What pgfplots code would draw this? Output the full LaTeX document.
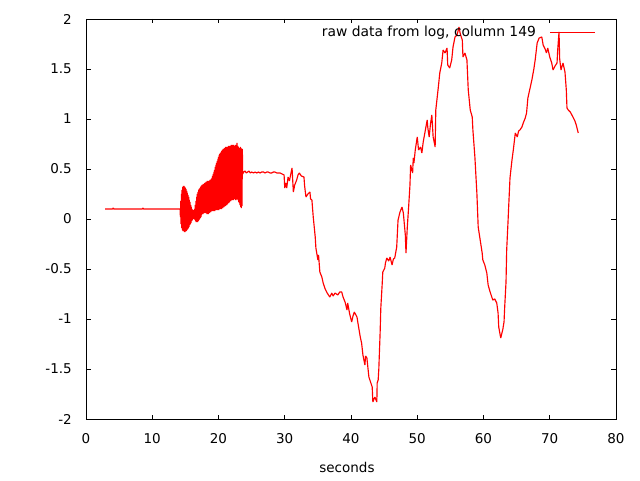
\documentclass[border=0pt]{standalone}
\usepackage{fontspec}
\setmainfont{DejaVu Sans}
\usepackage{pgfplots}
\pgfplotsset{compat=1.18}
\begin{document}
\fontsize{13.5pt}{16pt}\selectfont
\begin{tikzpicture}
\path[use as bounding box] (0,0) rectangle (640pt,480pt);
\begin{axis}[
  at={(86pt,61pt)}, anchor=south west,
  scale only axis, width=530pt, height=400pt,
  xmin=0, xmax=80, ymin=-2, ymax=2,
  xtick={0,10,20,30,40,50,60,70,80},
  ytick={-2,-1.5,-1,-0.5,0,0.5,1,1.5,2},
  tick pos=both, tick align=inside, major tick length=4.5pt,
  axis line style={line width=0.8pt},
  every tick/.style={black, line width=0.8pt},
  /pgf/number format/assume math mode=true,
  ticklabel style={font=\fontsize{13.5pt}{16pt}\selectfont},
  xticklabel style={anchor=north, inner sep=0pt, yshift=-14pt},
  yticklabel style={anchor=east, inner sep=0pt, xshift=-14pt},
  xlabel={seconds},
  xlabel style={at={(axis description cs:0.5,0)}, anchor=base, inner sep=0pt, yshift=-53pt, xshift=-4pt},
  legend plot pos=right,
  legend image code/.code={\draw[#1] (0pt,0pt) -- (45pt,0pt);},
  legend style={at={(rel axis cs:0.9623,0.9668)}, anchor=east, draw=none, fill=none,
    inner sep=0pt, outer sep=0pt, column sep=14pt,
    nodes={inner sep=0pt, font=\fontsize{13.85pt}{16pt}\selectfont}},
]
\addplot[red, line width=1.15pt, line join=bevel] coordinates {
(2.9,0.10) (4.0,0.10) (4.1,0.11) (4.2,0.10) (8.5,0.10) (8.6,0.11) (8.7,0.10) (14.1,0.10)
(14.20,0.10) (14.25,0.02) (14.30,0.18) (14.35,-0.05) (14.40,0.25) (14.45,-0.09) (14.50,0.29) (14.55,-0.11)
(14.60,0.32) (14.65,-0.12) (14.70,0.33) (14.75,-0.12) (14.80,0.33) (14.85,-0.13) (14.90,0.32) (14.95,-0.13)
(15.00,0.31) (15.05,-0.12) (15.10,0.30) (15.15,-0.12) (15.20,0.28) (15.25,-0.11) (15.30,0.26) (15.35,-0.10)
(15.40,0.24) (15.45,-0.09) (15.50,0.22) (15.55,-0.08) (15.60,0.19) (15.65,-0.06) (15.70,0.17) (15.75,-0.05)
(15.80,0.14) (15.85,-0.04) (15.90,0.12) (15.95,-0.02) (16.00,0.10) (16.05,-0.01) (16.10,0.09) (16.15,0.00)
(16.20,0.08) (16.25,0.00) (16.30,0.09) (16.35,0.00) (16.40,0.10) (16.45,-0.01) (16.50,0.14) (16.55,-0.02)
(16.60,0.18) (16.65,-0.03) (16.70,0.22) (16.75,-0.03) (16.80,0.25) (16.85,-0.03) (16.90,0.27) (16.95,-0.02)
(17.00,0.29) (17.05,-0.01) (17.10,0.30) (17.15,0.00) (17.20,0.31) (17.25,0.01) (17.30,0.32) (17.35,0.02)
(17.40,0.33) (17.45,0.04) (17.50,0.34) (17.55,0.05) (17.60,0.34) (17.65,0.05) (17.70,0.35) (17.75,0.06)
(17.80,0.35) (17.85,0.06) (17.90,0.36) (17.95,0.06) (18.00,0.36) (18.05,0.06) (18.10,0.37) (18.15,0.06)
(18.20,0.37) (18.25,0.05) (18.30,0.38) (18.35,0.05) (18.40,0.38) (18.45,0.05) (18.50,0.37) (18.55,0.06)
(18.60,0.38) (18.65,0.06) (18.70,0.39) (18.75,0.07) (18.80,0.39) (18.85,0.07) (18.90,0.40) (18.95,0.08)
(19.00,0.41) (19.05,0.08) (19.10,0.43) (19.15,0.08) (19.20,0.45) (19.25,0.08) (19.30,0.47) (19.35,0.08)
(19.40,0.49) (19.45,0.08) (19.50,0.52) (19.55,0.09) (19.60,0.54) (19.65,0.09) (19.70,0.56) (19.75,0.09)
(19.80,0.58) (19.85,0.09) (19.90,0.60) (19.95,0.09) (20.00,0.62) (20.05,0.09) (20.10,0.64) (20.15,0.10)
(20.20,0.65) (20.25,0.10) (20.30,0.66) (20.35,0.10) (20.40,0.67) (20.45,0.10) (20.50,0.68) (20.55,0.11)
(20.60,0.69) (20.65,0.11) (20.70,0.70) (20.75,0.12) (20.80,0.70) (20.85,0.12) (20.90,0.71) (20.95,0.13)
(21.00,0.71) (21.05,0.13) (21.10,0.72) (21.15,0.14) (21.20,0.72) (21.25,0.14) (21.30,0.71) (21.35,0.15)
(21.40,0.72) (21.45,0.16) (21.50,0.73) (21.55,0.16) (21.60,0.73) (21.65,0.17) (21.70,0.72) (21.75,0.18)
(21.80,0.73) (21.85,0.18) (21.90,0.74) (21.95,0.19) (22.00,0.74) (22.05,0.19) (22.10,0.73) (22.15,0.19)
(22.20,0.74) (22.25,0.19) (22.30,0.74) (22.35,0.20) (22.40,0.73) (22.45,0.20) (22.50,0.73) (22.55,0.19)
(22.60,0.74) (22.65,0.19) (22.70,0.73) (22.75,0.20) (22.80,0.76) (22.85,0.20) (22.90,0.73) (22.95,0.19)
(23.00,0.72) (23.05,0.17) (23.10,0.71) (23.15,0.16) (23.20,0.71) (23.25,0.14) (23.30,0.72) (23.35,0.12)
(23.40,0.71) (23.45,0.11) (23.50,0.70) (23.55,0.13) (23.60,0.70) (23.65,0.45)
(23.8,0.47) (24.0,0.48) (24.2,0.46) (24.4,0.47) (24.6,0.48) (24.8,0.46) (25.0,0.47) (25.3,0.46)
(25.5,0.47) (25.8,0.46) (26.0,0.47) (26.3,0.46) (26.5,0.47) (26.8,0.47) (27.0,0.46) (27.3,0.47)
(27.5,0.47) (27.8,0.46) (28.0,0.46) (28.3,0.47) (28.5,0.47) (28.8,0.46) (29.0,0.46) (29.3,0.46)
(29.6,0.45) (29.9,0.44) (30.0,0.31) (30.2,0.36) (30.3,0.31) (30.5,0.42) (30.7,0.38) (31.1,0.51)
(31.3,0.27) (31.5,0.34) (31.8,0.39) (32.0,0.44) (32.2,0.46) (32.5,0.43) (32.9,0.42) (33.0,0.33)
(33.2,0.22) (33.5,0.25) (33.8,0.27) (33.9,0.20) (34.1,0.19) (34.3,0.02) (34.6,-0.18) (34.7,-0.29)
(35.0,-0.41) (35.1,-0.36) (35.3,-0.53) (35.6,-0.58) (35.8,-0.64) (36.1,-0.70) (36.4,-0.74) (36.8,-0.78)
(37.1,-0.74) (37.3,-0.77) (37.6,-0.74) (38.0,-0.76) (38.3,-0.73) (38.6,-0.73) (38.8,-0.78) (39.1,-0.83)
(39.4,-0.91) (39.5,-0.84) (39.8,-0.95) (40.1,-1.03) (40.3,-0.97) (40.5,-0.93) (40.9,-0.98) (41.1,-1.06)
(41.4,-1.18) (41.6,-1.24) (41.8,-1.36) (42.1,-1.46) (42.2,-1.37) (42.4,-1.39) (42.7,-1.58) (43.0,-1.64)
(43.2,-1.68) (43.3,-1.83) (43.6,-1.78) (43.9,-1.83) (43.95,-1.64) (44.1,-1.61) (44.2,-1.50)
(44.4,-1.13) (44.5,-0.89) (44.7,-0.66) (44.8,-0.53) (45.1,-0.49) (45.2,-0.44) (45.4,-0.39) (45.7,-0.42)
(45.9,-0.38) (46.2,-0.46) (46.4,-0.40) (46.6,-0.39) (46.9,-0.28) (47.1,-0.01) (47.4,0.07) (47.7,0.12)
(47.9,0.06) (48.2,-0.16) (48.3,-0.34) (48.5,-0.08) (48.7,0.12) (48.9,0.34) (49.0,0.54) (49.3,0.46)
(49.4,0.61) (49.5,0.56) (49.7,0.69) (50.0,0.82) (50.2,0.69) (50.5,0.72) (50.7,0.66) (50.9,0.77)
(51.2,0.88) (51.5,0.99) (51.6,0.91) (51.8,0.82) (52.0,0.95) (52.2,1.04) (52.4,0.82) (52.7,0.72)
(52.8,1.09) (53.0,1.21) (53.2,1.33) (53.4,1.46) (53.7,1.56) (53.9,1.69) (54.2,1.66) (54.5,1.71)
(54.6,1.54) (54.9,1.51) (55.2,1.59) (55.4,1.72) (55.7,1.82) (56.0,1.84) (56.2,1.89) (56.3,1.92)
(56.5,1.85) (56.8,1.79) (56.9,1.62) (57.2,1.66) (57.5,1.59) (57.7,1.29) (58.0,1.09) (58.3,1.02)
(58.4,0.89) (58.7,0.62) (59.0,0.26) (59.2,-0.08) (59.5,-0.21) (59.8,-0.34) (59.9,-0.41) (60.2,-0.46)
(60.5,-0.54) (60.7,-0.66) (61.0,-0.73) (61.4,-0.81) (61.7,-0.80) (62.0,-0.84) (62.2,-0.94) (62.3,-1.08)
(62.6,-1.19) (62.9,-1.11) (63.1,-1.03) (63.2,-0.88) (63.4,-0.63) (63.5,-0.31) (63.7,-0.03) (63.8,0.12)
(64.0,0.41) (64.3,0.59) (64.5,0.69) (64.8,0.86) (65.1,0.82) (65.3,0.88) (65.5,0.89) (65.8,0.92)
(66.0,0.96) (66.3,1.01) (66.5,1.06) (66.7,1.21) (67.0,1.30) (67.3,1.39) (67.6,1.50) (67.8,1.59)
(68.1,1.76) (68.4,1.81) (68.8,1.82) (69.0,1.74) (69.3,1.70) (69.5,1.66) (69.7,1.71) (70.0,1.62)
(70.3,1.56) (70.5,1.49) (70.8,1.53) (71.1,1.56) (71.2,1.69) (71.4,1.87) (71.5,1.60) (71.7,1.49)
(72.0,1.56) (72.3,1.47) (72.5,1.29) (72.6,1.11) (72.8,1.09) (73.1,1.07) (73.5,1.02) (73.8,0.98)
(74.0,0.94) (74.3,0.86)
};
\addlegendentry{raw data from log, column 149}
\end{axis}
\end{tikzpicture}
\end{document}
